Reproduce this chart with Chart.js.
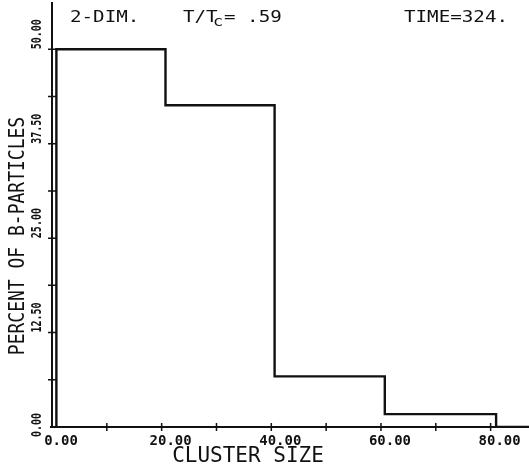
<!DOCTYPE html>
<html>
<head>
<meta charset="utf-8">
<script src="https://cdn.jsdelivr.net/npm/chart.js@4.4.1/dist/chart.umd.min.js"></script>
<style>
  html, body { margin: 0; padding: 0; background: #fff; }
  #wrap { width: 529px; height: 467px; }
</style>
</head>
<body>
<div id="wrap"><canvas id="chart"></canvas></div>
<script>
// Histogram data: bin edges (cluster size) and percent per bin
const binEdges = [0.8, 20.7, 40.6, 60.7, 81.0];
const percents = [50.0, 42.6, 6.7, 1.7];

// Axis ticks / labels
const xTickValues = [0, 20, 40, 60, 80];
const xTickLabels = ['0.00', '20.00', '40.00', '60.00', '80.00'];
const yTickValues = [0, 12.5, 25, 37.5, 50];
const yTickLabels = ['0.00', '12.50', '25.00', '37.50', '50.00'];
const X_MAX = 87, Y_MAX = 56;

const INK = '#111';
const MONO = '"DejaVu Sans Mono", "Liberation Mono", monospace';

// Build the stepped outline from the bins
const outline = [{ x: binEdges[0], y: 0 }];
percents.forEach((p, i) => {
    outline.push({ x: binEdges[i], y: p });
    outline.push({ x: binEdges[i + 1], y: p });
});
outline.push({ x: binEdges[binEdges.length - 1], y: 0 });
outline.push({ x: X_MAX, y: 0 });

// draw a piece of text, optionally rotated / stretched
function txt(ctx, s, x, y, size, o) {
    o = o || {};
    ctx.save();
    ctx.translate(x, y);
    if (o.rot) ctx.rotate(o.rot);
    ctx.scale(o.sx || 1, o.sy || 1);
    ctx.font = (o.bold ? 'bold ' : '') + size + 'px ' + MONO;
    ctx.fillStyle = INK;
    ctx.textAlign = o.align || 'left';
    ctx.textBaseline = 'middle';
    ctx.fillText(s, 0, 0);
    ctx.restore();
}

// Axes, crossing ticks and all the plotter-style text
const plotterAxes = {
    id: 'plotterAxes',
    afterDraw(chart) {
        const ctx = chart.ctx;
        const a = chart.chartArea;
        const xs = chart.scales.x, ys = chart.scales.y;

        ctx.save();
        ctx.strokeStyle = INK;
        ctx.lineWidth = 2;
        ctx.beginPath();
        ctx.moveTo(a.left, a.top - 2);
        ctx.lineTo(a.left, a.bottom);
        ctx.moveTo(a.left - 2, a.bottom);
        ctx.lineTo(a.right, a.bottom);
        ctx.stroke();

        // x ticks every 10, y ticks every 6.25
        ctx.lineWidth = 1.5;
        ctx.beginPath();
        for (let v = 10; v <= 80; v += 10) {
            const px = xs.getPixelForValue(v);
            ctx.moveTo(px, a.bottom - 4);
            ctx.lineTo(px, a.bottom + 4);
        }
        for (let v = 6.25; v <= 50; v += 6.25) {
            const py = ys.getPixelForValue(v);
            ctx.moveTo(a.left - 4, py);
            ctx.lineTo(a.left + 4, py);
        }
        ctx.stroke();
        ctx.restore();

        // tick labels
        xTickValues.forEach((v, i) => {
            txt(ctx, xTickLabels[i], xs.getPixelForValue(v) + 9, a.bottom + 14, 14, { align: 'center', sy: 1.05, bold: true });
        });
        yTickValues.forEach((v, i) => {
            const py = ys.getPixelForValue(v) + (i === 0 ? 10 : 0);
            txt(ctx, yTickLabels[i], 37, py, 10, { rot: -Math.PI / 2, sy: 1.4, bold: true });
        });

        // axis titles
        txt(ctx, 'CLUSTER SIZE', 248, 457, 21, { align: 'center' });
        txt(ctx, 'PERCENT OF B-PARTICLES', 19, 236, 18, { align: 'center', rot: -Math.PI / 2, sy: 1.15 });

        // header
        const h = { sx: 1.2 };
        txt(ctx, '2-DIM.', 70, 18, 16, h);
        txt(ctx, 'T/T', 183, 18, 16, h);
        txt(ctx, 'c', 213, 22, 14, h);
        txt(ctx, '= .59', 224, 18, 16, h);
        txt(ctx, 'TIME=324.', 404, 18, 16, h);
    }
};

new Chart(document.getElementById('chart'), {
    type: 'scatter',
    data: {
        datasets: [{
            data: outline,
            showLine: true,
            borderColor: INK,
            borderWidth: 2.4,
            pointRadius: 0,
            tension: 0
        }]
    },
    options: {
        responsive: true,
        maintainAspectRatio: false,
        animation: false,
        layout: { padding: { top: 4, left: 0, right: 0, bottom: 0 } },
        plugins: { legend: { display: false }, tooltip: { enabled: false } },
        scales: {
            x: {
                type: 'linear', min: 0, max: X_MAX,
                ticks: { display: false },
                grid: { display: false },
                border: { display: false },
                afterFit: s => { s.height = 40; }
            },
            y: {
                type: 'linear', min: 0, max: Y_MAX,
                ticks: { display: false },
                grid: { display: false },
                border: { display: false },
                afterFit: s => { s.width = 52; }
            }
        }
    },
    plugins: [plotterAxes]
});
</script>
</body>
</html>
